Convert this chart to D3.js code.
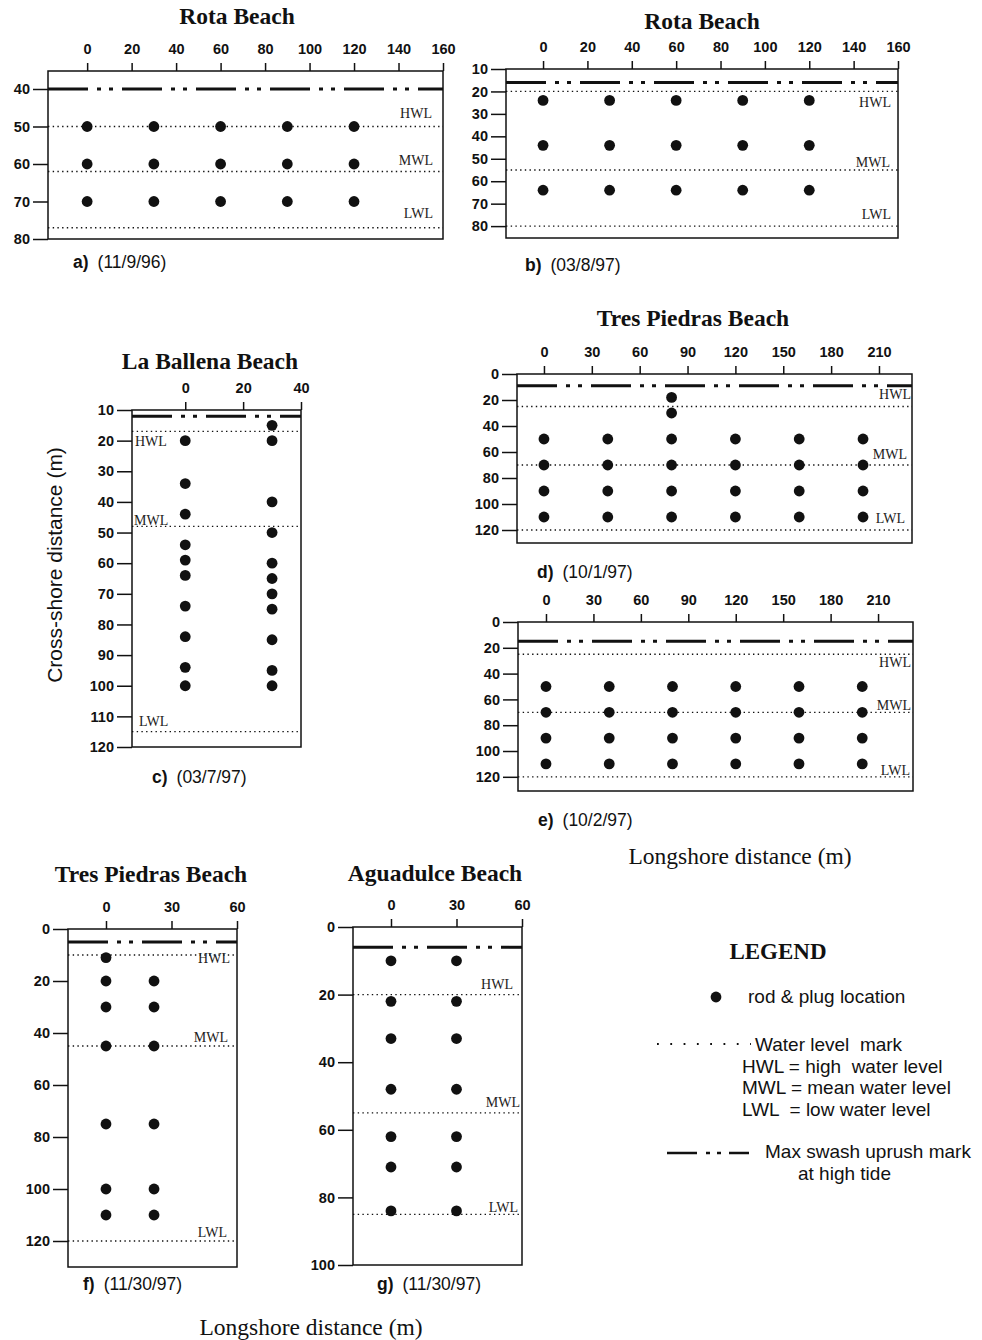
<!DOCTYPE html>
<html>
<head>
<meta charset="utf-8">
<script src="https://cdn.jsdelivr.net/npm/d3@7"></script>
<style>
  body { margin: 0; background: #fff; }
  svg { display: block; }
</style>
</head>
<body>
<svg id="fig" width="982" height="1340"></svg>
<script>
// ---- Rod & plug survey grids (longshore m, cross-shore m) ----
// Levels are [max swash uprush, HWL, MWL, LWL] in cross-shore metres.

// a) Rota Beach 11/9/96
const aCols = [0, 30, 60, 90, 120];
const aRows = [50, 60, 70];
const aLevels = [40, 50, 62, 77];
const aXTicks = [0, 20, 40, 60, 80, 100, 120, 140, 160];
const aYTicks = [40, 50, 60, 70, 80];

// b) Rota Beach 03/8/97
const bCols = [0, 30, 60, 90, 120];
const bRows = [24, 44, 64];
const bLevels = [16, 20, 55, 80];
const bXTicks = [0, 20, 40, 60, 80, 100, 120, 140, 160];
const bYTicks = [10, 20, 30, 40, 50, 60, 70, 80];

// c) La Ballena Beach 03/7/97
const cLine0 = [20, 34, 44, 54, 59, 64, 74, 84, 94, 100];
const cLine30 = [15, 20, 40, 50, 60, 65, 70, 75, 85, 95, 100];
const cLevels = [12, 17, 48, 115];
const cXTicks = [0, 20, 40];
const cYTicks = [10, 20, 30, 40, 50, 60, 70, 80, 90, 100, 110, 120];

// d) Tres Piedras Beach 10/1/97
const dCols = [0, 40, 80, 120, 160, 200];
const dRows = [50, 70, 90, 110];
const dExtraX = 80;
const dExtraRows = [18, 30];
const dLevels = [9, 25, 70, 120];
const dXTicks = [0, 30, 60, 90, 120, 150, 180, 210];
const dYTicks = [0, 20, 40, 60, 80, 100, 120];

// e) Tres Piedras Beach 10/2/97
const eCols = [0, 40, 80, 120, 160, 200];
const eRows = [50, 70, 90, 110];
const eLevels = [15, 25, 70, 120];
const eXTicks = [0, 30, 60, 90, 120, 150, 180, 210];
const eYTicks = [0, 20, 40, 60, 80, 100, 120];

// f) Tres Piedras Beach 11/30/97
const fLine0 = [11, 20, 30, 45, 75, 100, 110];
const fLine22 = [20, 30, 45, 75, 100, 110];
const fLevels = [5, 10, 45, 120];
const fXTicks = [0, 30, 60];
const fYTicks = [0, 20, 40, 60, 80, 100, 120];

// g) Aguadulce Beach 11/30/97
const gCols = [0, 30];
const gRows = [10, 22, 33, 48, 62, 71, 84];
const gLevels = [6, 20, 55, 85];
const gXTicks = [0, 30, 60];
const gYTicks = [0, 20, 40, 60, 80, 100];

const levelNames = ["HWL", "MWL", "LWL"];

// ---- Panel layout ----
const col = (xv, ys) => ys.map(v => [xv, v]);

const panels = [
  { id: "a", title: "Rota Beach", titleAt: [237, 24], box: [48, 71, 443, 239],
    xDomain: [-17.6, 160], yDomain: [35.2, 80], xTicks: aXTicks, yTicks: aYTicks,
    rods: d3.cross(aCols, aRows), levels: aLevels,
    labelSide: "right", labelInset: [11, 10, 10], labelOff: [-9, -7, -10],
    caption: ["a)", "(11/9/96)"], captionAt: [73, 268] },
  { id: "b", title: "Rota Beach", titleAt: [702, 29], box: [506, 69, 898, 238],
    xDomain: [-16.7, 160], yDomain: [10, 85.3], xTicks: bXTicks, yTicks: bYTicks,
    rods: d3.cross(bCols, bRows), levels: bLevels,
    labelSide: "right", labelInset: [7, 8, 7], labelOff: [16, -3, -7],
    caption: ["b)", "(03/8/97)"], captionAt: [525, 271] },
  { id: "c", title: "La Ballena Beach", titleAt: [210, 369], box: [132, 410, 301, 747],
    xDomain: [-18.4, 40], yDomain: [10, 120], xTicks: cXTicks, yTicks: cYTicks,
    rods: col(0, cLine0).concat(col(30, cLine30)), levels: cLevels,
    labelSide: "left", labelInset: [3, 2, 7], labelOff: [15, -1, -6],
    caption: ["c)", "(03/7/97)"], captionAt: [152, 783] },
  { id: "d", title: "Tres Piedras Beach", titleAt: [693, 326], box: [517, 374, 912, 543],
    xDomain: [-16.9, 230.7], yDomain: [0, 130], xTicks: dXTicks, yTicks: dYTicks,
    rods: d3.cross(dCols, dRows).concat(col(dExtraX, dExtraRows)), levels: dLevels,
    labelSide: "right", labelInset: [1, 5, 7], labelOff: [-8, -6, -7],
    caption: ["d)", "(10/1/97)"], captionAt: [537, 578] },
  { id: "e", title: null, box: [518, 622, 913, 791],
    xDomain: [-17.7, 232.1], yDomain: [0, 131], xTicks: eXTicks, yTicks: eYTicks,
    rods: d3.cross(eCols, eRows), levels: eLevels,
    labelSide: "right", labelInset: [2, 2, 3], labelOff: [13, -2, -2],
    caption: ["e)", "(10/2/97)"], captionAt: [538, 826] },
  { id: "f", title: "Tres Piedras Beach", titleAt: [151, 882], box: [68, 929, 237, 1267],
    xDomain: [-17.4, 60], yDomain: [0, 130], xTicks: fXTicks, yTicks: fYTicks,
    rods: col(0, fLine0).concat(col(22, fLine22)), levels: fLevels,
    labelSide: "right", labelInset: [7, 9, 10], labelOff: [8, -4, -4],
    caption: ["f)", "(11/30/97)"], captionAt: [83, 1290] },
  { id: "g", title: "Aguadulce Beach", titleAt: [435, 881], box: [353, 927, 522, 1265],
    xDomain: [-17.4, 60], yDomain: [0, 100], xTicks: gXTicks, yTicks: gYTicks,
    rods: d3.cross(gCols, gRows), levels: gLevels,
    labelSide: "right", labelInset: [9, 2, 4], labelOff: [-6, -6, -2],
    caption: ["g)", "(11/30/97)"], captionAt: [377, 1290] }
];

const SANS = "'Liberation Sans', Arial, Helvetica, sans-serif";
const SERIF = "'Liberation Serif', 'Times New Roman', Times, serif";
const INK = "#111";
const SWASH_DASH = "40,9,4,8,4,9";
const DOT_DASH = "1.4,3.3";

const svg = d3.select("#fig");
svg.append("rect").attr("width", 982).attr("height", 1340).attr("fill", "#fff");

function styleAxis(sel) {
  sel.select(".domain").remove();
  sel.selectAll(".tick line").attr("stroke", INK).attr("stroke-width", 1.5);
  sel.selectAll(".tick text")
    .attr("fill", INK)
    .attr("font-family", SANS)
    .attr("font-weight", "bold")
    .attr("font-size", 14.5);
}

function drawPanel(p) {
  const [x0, y0, x1, y1] = p.box;
  const g = svg.append("g").attr("class", "panel-" + p.id);
  const x = d3.scaleLinear().domain(p.xDomain).range([x0, x1]);
  const y = d3.scaleLinear().domain(p.yDomain).range([y0, y1]);

  // axes: longshore on top, cross-shore on the left
  g.append("g")
    .attr("transform", `translate(0,${y0})`)
    .call(d3.axisTop(x).tickValues(p.xTicks).tickSize(8).tickPadding(9).tickFormat(d3.format("d")))
    .call(styleAxis);
  g.append("g")
    .attr("transform", `translate(${x0},0)`)
    .call(d3.axisLeft(y).tickValues(p.yTicks).tickSize(15).tickPadding(3).tickFormat(d3.format("d")))
    .call(styleAxis);

  // frame
  g.append("rect")
    .attr("x", x0).attr("y", y0)
    .attr("width", x1 - x0).attr("height", y1 - y0)
    .attr("fill", "none").attr("stroke", INK).attr("stroke-width", 1.5);

  // max swash uprush mark
  const [swash, ...water] = p.levels;
  g.append("line")
    .attr("x1", x0).attr("x2", x1)
    .attr("y1", y(swash)).attr("y2", y(swash))
    .attr("stroke", INK).attr("stroke-width", 3)
    .attr("stroke-dasharray", SWASH_DASH);

  // water level marks
  g.selectAll("line.wl").data(water).join("line")
    .attr("class", "wl")
    .attr("x1", x0).attr("x2", x1)
    .attr("y1", d => y(d)).attr("y2", d => y(d))
    .attr("stroke", INK).attr("stroke-width", 1.3)
    .attr("stroke-dasharray", DOT_DASH);

  g.selectAll("text.wl").data(water).join("text")
    .attr("class", "wl")
    .attr("x", (d, i) => p.labelSide === "right" ? x1 - p.labelInset[i] : x0 + p.labelInset[i])
    .attr("y", (d, i) => y(d) + p.labelOff[i])
    .attr("text-anchor", p.labelSide === "right" ? "end" : "start")
    .attr("font-family", SERIF).attr("font-size", 14).attr("fill", "#222")
    .text((d, i) => levelNames[i]);

  // rod & plug locations
  g.selectAll("circle").data(p.rods).join("circle")
    .attr("cx", d => x(d[0])).attr("cy", d => y(d[1]))
    .attr("r", 5.4).attr("fill", INK);

  if (p.title) {
    g.append("text")
      .attr("x", p.titleAt[0]).attr("y", p.titleAt[1])
      .attr("text-anchor", "middle")
      .attr("font-family", SERIF).attr("font-weight", "bold").attr("font-size", 23.5)
      .attr("fill", INK)
      .text(p.title);
  }

  const cap = g.append("text")
    .attr("x", p.captionAt[0]).attr("y", p.captionAt[1])
    .attr("font-family", SANS).attr("font-size", 17.5).attr("fill", INK);
  cap.append("tspan").attr("font-weight", "bold").text(p.caption[0]);
  cap.append("tspan").attr("dx", 9).text(p.caption[1]);
}

panels.forEach(drawPanel);

// shared axis titles
svg.append("text")
  .attr("transform", "translate(62,565) rotate(-90)")
  .attr("text-anchor", "middle")
  .attr("font-family", SANS).attr("font-size", 21).attr("fill", INK)
  .text("Cross-shore distance (m)");

svg.append("text")
  .attr("x", 740).attr("y", 864)
  .attr("text-anchor", "middle")
  .attr("font-family", SERIF).attr("font-size", 23.5).attr("fill", INK)
  .text("Longshore distance (m)");

svg.append("text")
  .attr("x", 311).attr("y", 1335)
  .attr("text-anchor", "middle")
  .attr("font-family", SERIF).attr("font-size", 23.5).attr("fill", INK)
  .text("Longshore distance (m)");

// legend
const lg = svg.append("g").attr("class", "legend");
lg.append("text")
  .attr("x", 778).attr("y", 959).attr("text-anchor", "middle")
  .attr("font-family", SERIF).attr("font-weight", "bold").attr("font-size", 23)
  .attr("fill", INK).text("LEGEND");

lg.append("circle").attr("cx", 716).attr("cy", 997).attr("r", 5.4).attr("fill", INK);

const legendText = [
  { x: 748, y: 1003, t: "rod & plug location" },
  { x: 755, y: 1051, t: "Water level  mark" },
  { x: 742, y: 1073, t: "HWL = high  water level" },
  { x: 742, y: 1094, t: "MWL = mean water level" },
  { x: 742, y: 1116, t: "LWL  = low water level" },
  { x: 765, y: 1158, t: "Max swash uprush mark" },
  { x: 798, y: 1180, t: "at high tide" }
];
lg.selectAll("text.item").data(legendText).join("text")
  .attr("class", "item")
  .attr("x", d => d.x).attr("y", d => d.y)
  .attr("font-family", SANS).attr("font-size", 19).attr("fill", INK)
  .style("white-space", "pre").attr("xml:space", "preserve")
  .text(d => d.t);

lg.append("line")
  .attr("x1", 657).attr("x2", 751).attr("y1", 1044).attr("y2", 1044)
  .attr("stroke", INK).attr("stroke-width", 1.8).attr("stroke-dasharray", "1.8,11.5");

lg.append("line")
  .attr("x1", 667).attr("x2", 749).attr("y1", 1153).attr("y2", 1153)
  .attr("stroke", INK).attr("stroke-width", 2.5).attr("stroke-dasharray", "30,9,4,7,4,8,20");
</script>
</body>
</html>
